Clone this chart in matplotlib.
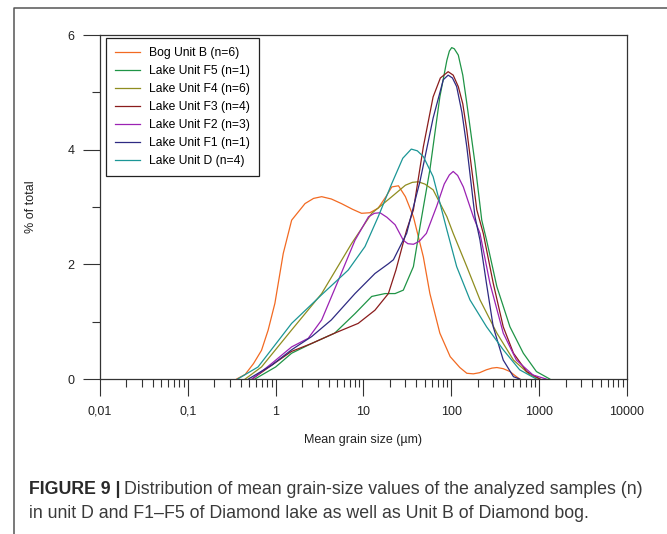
import matplotlib
matplotlib.use("Agg")
import matplotlib.pyplot as plt
import matplotlib.ticker as ticker
from matplotlib.lines import Line2D

plt.rcParams["font.family"] = ["Liberation Sans", "DejaVu Sans"]

# ---------------------------------------------------------------------------
# Data: mean grain size (um) vs % of total
# ---------------------------------------------------------------------------

BOG_B_X = [0.36, 0.45, 0.56, 0.69, 0.82, 0.98, 1.22, 1.52, 2.16, 2.7, 3.34, 4.3, 5.6, 7.5,
           9.5, 11.8, 14.7, 18, 21, 25, 30, 37, 48, 57, 74, 97, 125, 150, 178, 210,
           250, 290, 330, 390, 465, 530, 600]
BOG_B_Y = [0.0, 0.08, 0.27, 0.5, 0.85, 1.32, 2.19, 2.77, 3.06, 3.15, 3.18, 3.14, 3.06, 2.96,
           2.89, 2.90, 2.98, 3.18, 3.35, 3.37, 3.18, 2.83, 2.13, 1.49, 0.80, 0.39, 0.20, 0.10, 0.09, 0.11,
           0.16, 0.19, 0.20, 0.18, 0.13, 0.06, 0.0]

F5_X = [0.58, 1.0, 1.52, 2.57, 4.7, 8.0, 12.4, 17.6, 22.9, 28.4, 37, 44, 57, 74,
        89, 95, 101, 108, 120, 135, 150, 186, 222, 252, 330, 465, 660, 930, 1320]
F5_Y = [0.0, 0.21, 0.45, 0.62, 0.80, 1.14, 1.44, 1.49, 1.49, 1.55, 1.96, 2.66, 3.65, 4.92,
        5.56, 5.72, 5.78, 5.76, 5.65, 5.30, 4.81, 3.76, 2.77, 2.42, 1.61, 0.91, 0.45, 0.13, 0.0]

F4_X = [0.45, 0.69, 1.51, 3.34, 7.3, 12.4, 21, 30, 36, 42, 50, 62, 89, 105, 150, 212,
        330, 510, 790, 1020]
F4_Y = [0.0, 0.21, 0.85, 1.49, 2.36, 2.89, 3.18, 3.38, 3.43, 3.44, 3.40, 3.30, 2.83, 2.54, 1.96, 1.38,
        0.80, 0.33, 0.07, 0.0]

F3_X = [0.54, 0.90, 1.51, 2.57, 4.7, 8.7, 13.5, 19.2, 23.4, 31, 37, 48, 62, 75, 92,
        105, 120, 135, 150, 195, 231, 300, 390, 510, 720, 1020]
F3_Y = [0.0, 0.24, 0.48, 0.62, 0.80, 0.97, 1.20, 1.49, 1.90, 2.60, 2.95, 4.05, 4.92, 5.25, 5.36,
        5.30, 5.10, 4.80, 4.34, 2.95, 2.54, 1.67, 0.91, 0.45, 0.13, 0.0]

F2_X = [0.54, 0.90, 1.52, 2.35, 3.34, 5.2, 8.0, 11.4, 13.3, 15.4, 18.5, 22.9, 28.4, 32, 37,
        43, 52, 68, 83, 95, 105, 118, 137, 178, 212, 275, 390, 550, 850, 1200]
F2_Y = [0.0, 0.27, 0.56, 0.71, 1.03, 1.73, 2.42, 2.83, 2.89, 2.90, 2.82, 2.69, 2.42, 2.36, 2.35,
        2.40, 2.54, 3.01, 3.40, 3.56, 3.62, 3.55, 3.35, 2.83, 2.54, 1.67, 0.80, 0.33, 0.07, 0.0]

F1_X = [0.49, 0.90, 1.52, 2.57, 4.3, 8.0, 13.5, 19.2, 21.9, 31, 44, 62, 81, 92, 103,
        115, 132, 150, 186, 212, 251, 300, 390, 510, 600]
F1_Y = [0.0, 0.24, 0.51, 0.74, 1.03, 1.49, 1.84, 2.01, 2.08, 2.54, 3.45, 4.55, 5.22, 5.30, 5.25,
        5.10, 4.65, 4.05, 2.83, 2.42, 1.67, 0.91, 0.33, 0.04, 0.0]

D_X = [0.37, 0.63, 1.52, 3.34, 6.7, 10.4, 14.7, 21, 28, 35, 41, 48, 62, 89, 115,
       163, 252, 390, 600, 930]
D_Y = [0.0, 0.21, 0.97, 1.47, 1.90, 2.31, 2.83, 3.41, 3.85, 4.01, 3.98, 3.88, 3.53, 2.60, 1.96,
       1.38, 0.91, 0.51, 0.16, 0.0]

SERIES = [
    ("Bog Unit B (n=6)",   BOG_B_X, BOG_B_Y, "#f26a22"),
    ("Lake Unit F5 (n=1)", F5_X,    F5_Y,    "#1f9446"),
    ("Lake Unit F4 (n=6)", F4_X,    F4_Y,    "#8f8d1f"),
    ("Lake Unit F3 (n=4)", F3_X,    F3_Y,    "#8a1c1c"),
    ("Lake Unit F2 (n=3)", F2_X,    F2_Y,    "#9b22b3"),
    ("Lake Unit F1 (n=1)", F1_X,    F1_Y,    "#2e2a82"),
    ("Lake Unit D (n=4)",  D_X,     D_Y,     "#1b9696"),
]

X_TICKS = [0.01, 0.1, 1, 10, 100, 1000, 10000]
X_TICK_LABELS = ["0,01", "0,1", "1", "10", "100", "1000", "10000"]
Y_TICKS = [0, 2, 4, 6]

W, H = 667, 534
AX_COL = "#333333"

fig = plt.figure(figsize=(W / 100, H / 100), dpi=100)
ax = fig.add_axes([100 / W, 1 - 379 / H, 527 / W, 344 / H])

for label, xs, ys, col in SERIES:
    ax.plot(xs, ys, color=col, lw=0.9, label=label)

ax.set_xscale("log")
ax.set_xlim(0.01, 10000)
ax.set_ylim(0, 6)

ax.xaxis.set_major_locator(ticker.FixedLocator(X_TICKS))
ax.xaxis.set_major_formatter(ticker.FixedFormatter(X_TICK_LABELS))
ax.xaxis.set_minor_locator(ticker.LogLocator(base=10, subs=range(2, 10), numticks=20))
ax.xaxis.set_minor_formatter(ticker.NullFormatter())
ax.yaxis.set_major_locator(ticker.FixedLocator(Y_TICKS))
ax.yaxis.set_minor_locator(ticker.MultipleLocator(1))

ax.tick_params(axis="both", which="major", direction="out", length=12.2, width=0.8,
               color=AX_COL, labelsize=9, labelcolor="#222222")
ax.tick_params(axis="both", which="minor", direction="out", length=5.8, width=0.8,
               color=AX_COL)
ax.tick_params(axis="x", which="major", pad=7)
ax.tick_params(axis="y", which="major", pad=6)

for sp in ax.spines.values():
    sp.set_color(AX_COL)
    sp.set_linewidth(0.9)

ax.set_xlabel("Mean grain size (\u00b5m)", fontsize=9, color="#222222", labelpad=12)
ax.set_ylabel("% of total", fontsize=9, color="#222222", labelpad=22)

leg = ax.legend(loc="upper left", bbox_to_anchor=(106 / W, 1 - 38 / H),
                bbox_transform=fig.transFigure, borderaxespad=0, fontsize=8.7,
                frameon=True, fancybox=False, framealpha=1, edgecolor="#222222",
                handlelength=2.1, handletextpad=0.7, labelspacing=0.5, borderpad=0.75)
leg.get_frame().set_linewidth(0.9)

# outer figure frame (top and left edges visible)
fig.add_artist(Line2D([14 / W, 14 / W, 1], [0, 1 - 8 / H, 1 - 8 / H],
                      transform=fig.transFigure, color="#555555", lw=1.1))

# caption
cap_col = "#3a3a3a"
t1 = fig.text(29 / W, 1 - 490 / H, "FIGURE 9 |", fontsize=12.8, fontweight="bold",
              color="#2a2a2a", va="center", ha="left")
fig.canvas.draw()
bb = t1.get_window_extent(fig.canvas.get_renderer())
fig.text((bb.x1 + 4) / W, 1 - 490 / H,
         "Distribution of mean grain-size values of the analyzed samples (n)",
         fontsize=12.8, color=cap_col, va="center", ha="left")
fig.text(29 / W, 1 - 513 / H,
         "in unit D and F1\u2013F5 of Diamond lake as well as Unit B of Diamond bog.",
         fontsize=12.8, color=cap_col, va="center", ha="left")

fig.savefig("out.png", dpi=100)
